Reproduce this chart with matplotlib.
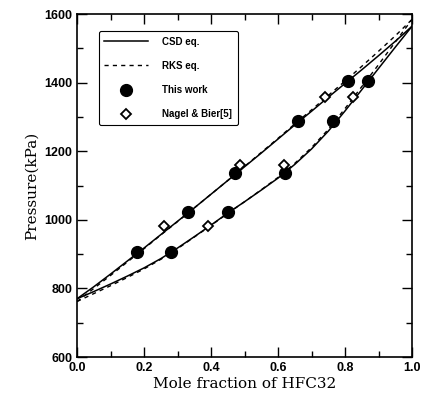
import numpy as np
import matplotlib.pyplot as plt
from matplotlib.ticker import MultipleLocator, FormatStrFormatter

# Calculated curves (x = mole fraction of HFC32, P in kPa)
x_curve = [0.0, 0.05, 0.10, 0.15, 0.20, 0.25, 0.30, 0.35, 0.40, 0.45, 0.50,
           0.55, 0.60, 0.65, 0.70, 0.75, 0.80, 0.85, 0.90, 0.95, 1.0]
csd_bubble = [770, 805, 842, 880, 918, 957, 996, 1035, 1075, 1115, 1155,
              1195, 1236, 1277, 1317, 1358, 1398, 1438, 1479, 1521, 1565]
csd_dew = [770, 791, 813, 836, 860, 887, 918, 951, 985, 1020, 1053,
           1087, 1122, 1162, 1207, 1259, 1318, 1380, 1442, 1504, 1565]
rks_bubble = [762, 800, 838, 877, 916, 956, 995, 1035, 1075, 1115, 1156,
              1197, 1238, 1280, 1321, 1363, 1405, 1448, 1492, 1537, 1585]
rks_dew = [762, 785, 808, 832, 857, 885, 916, 950, 984, 1019, 1053,
           1088, 1124, 1165, 1211, 1264, 1325, 1389, 1453, 1519, 1585]

# This work
tw_x_liq = [0.18, 0.33, 0.47, 0.66, 0.81]
tw_x_vap = [0.28, 0.45, 0.62, 0.765, 0.867]
tw_p = [905, 1022, 1136, 1287, 1406]

# Nagel & Bier [5]
nb_x_liq = [0.26, 0.487, 0.74]
nb_x_vap = [0.39, 0.618, 0.824]
nb_p = [982, 1161, 1358]

fig = plt.figure(figsize=(4.21, 4.03), dpi=100)
ax = fig.add_axes([0.183, 0.114, 0.796, 0.851])

ax.plot(x_curve, csd_bubble, color='black', lw=1.1, label='CSD eq.')
ax.plot(x_curve, csd_dew, color='black', lw=1.1)
ax.plot(x_curve, rks_bubble, color='black', lw=1.0, ls=(0, (3, 3)), label='RKS eq.')
ax.plot(x_curve, rks_dew, color='black', lw=1.0, ls=(0, (3, 3)))

ax.plot(tw_x_liq + tw_x_vap, tw_p + tw_p, 'o', color='black', ms=8.5,
        label='This work')
ax.plot(nb_x_liq + nb_x_vap, nb_p + nb_p, 'D', mfc='white', mec='black',
        mew=1.3, ms=5.5, label='Nagel & Bier[5]')

ax.set_xlim(0, 1)
ax.set_ylim(600, 1600)
ax.xaxis.set_major_locator(MultipleLocator(0.2))
ax.xaxis.set_minor_locator(MultipleLocator(0.1))
ax.xaxis.set_major_formatter(FormatStrFormatter('%.1f'))
ax.yaxis.set_major_locator(MultipleLocator(200))
ax.yaxis.set_minor_locator(MultipleLocator(100))
ax.tick_params(which='both', direction='in', top=True, right=True)
ax.tick_params(which='major', length=7, width=1, labelsize=9)
ax.tick_params(which='minor', length=4, width=1)
for lbl in ax.get_xticklabels() + ax.get_yticklabels():
    lbl.set_fontweight('bold')
    lbl.set_family('Liberation Sans')
for sp in ax.spines.values():
    sp.set_linewidth(1.2)

ax.set_xlabel('Mole fraction of HFC32', family='DejaVu Serif', fontsize=11,
              labelpad=2)
ax.set_ylabel('Pressure(kPa)', family='DejaVu Serif', fontsize=11, labelpad=4)

leg = ax.legend(loc='upper left', bbox_to_anchor=(0.05, 0.965),
                prop={'family': 'Liberation Sans', 'weight': 'bold', 'size': 7},
                handlelength=4.5, labelspacing=1.45, borderpad=0.6,
                handletextpad=1.4, fancybox=True, edgecolor='black',
                framealpha=1, numpoints=1)
leg.get_frame().set_linewidth(0.8)

fig.savefig('out.png', dpi=100)
